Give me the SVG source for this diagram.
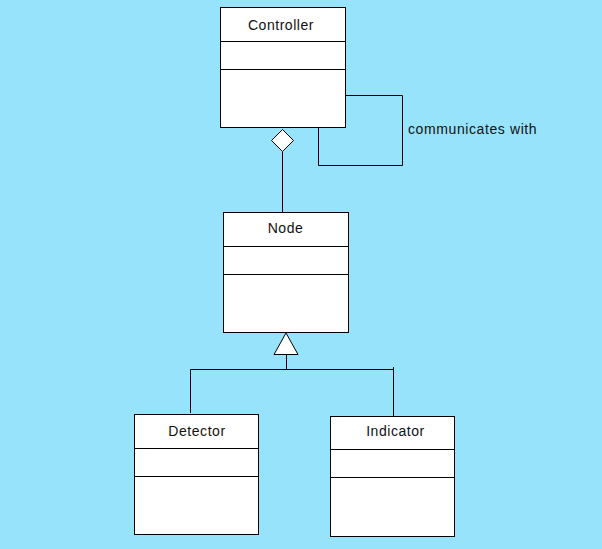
<svg xmlns="http://www.w3.org/2000/svg" width="602" height="549" viewBox="0 0 602 549">
<style>
.box{fill:#fff;stroke:#000;stroke-width:1}
.div{stroke:#000;stroke-width:1}
.lbl{font-family:"Liberation Sans",Arial,sans-serif;font-size:14px;letter-spacing:0.55px;fill:#111;text-anchor:middle}
.edge{fill:none;stroke:#000;stroke-width:1}
.head{fill:#fff;stroke:#000;stroke-width:1}
</style>
<rect x="0" y="0" width="602" height="549" fill="#97E3FC"/>
<g id="connectors">
<polyline class="edge" points="345.5,95.5 402.5,95.5 402.5,165.5 318.5,165.5 318.5,127.5"/>
<text x="408" y="134" style="font-family:'Liberation Sans',Arial,sans-serif;font-size:14px;letter-spacing:0.6px;fill:#111">communicates with</text>
<line class="edge" x1="282.5" y1="151.5" x2="282.5" y2="212.5"/>
<polygon class="head" points="282.5,129.5 293.5,140.5 282.5,151.5 271.5,140.5"/>
<polyline class="edge" points="286.5,354.5 286.5,369.5"/>
<polyline class="edge" points="190.5,413 190.5,369.5 393.5,369.5"/>
<line class="edge" x1="393.5" y1="367" x2="393.5" y2="416.5"/>
<polygon class="head" points="286,333 274,354.5 298,354.5"/>
</g>
<g id="controller">
<rect class="box" x="220.5" y="7.5" width="125" height="120"/>
<line class="div" x1="220.5" y1="41.5" x2="345.5" y2="41.5"/>
<line class="div" x1="220.5" y1="69.5" x2="345.5" y2="69.5"/>
<text class="lbl" x="281" y="30">Controller</text>
</g>
<g id="node">
<rect class="box" x="223.5" y="212.5" width="125" height="120"/>
<line class="div" x1="223.5" y1="246.5" x2="348.5" y2="246.5"/>
<line class="div" x1="223.5" y1="274.5" x2="348.5" y2="274.5"/>
<text class="lbl" x="285.5" y="233">Node</text>
</g>
<g id="detector">
<rect class="box" x="134.5" y="414.5" width="124" height="120"/>
<line class="div" x1="134.5" y1="448.5" x2="258.5" y2="448.5"/>
<line class="div" x1="134.5" y1="476.5" x2="258.5" y2="476.5"/>
<text class="lbl" x="197" y="436">Detector</text>
</g>
<g id="indicator">
<rect class="box" x="330.5" y="416.5" width="124" height="120"/>
<line class="div" x1="330.5" y1="449.5" x2="454.5" y2="449.5"/>
<line class="div" x1="330.5" y1="477.5" x2="454.5" y2="477.5"/>
<text class="lbl" x="395.5" y="436">Indicator</text>
</g>
</svg>
